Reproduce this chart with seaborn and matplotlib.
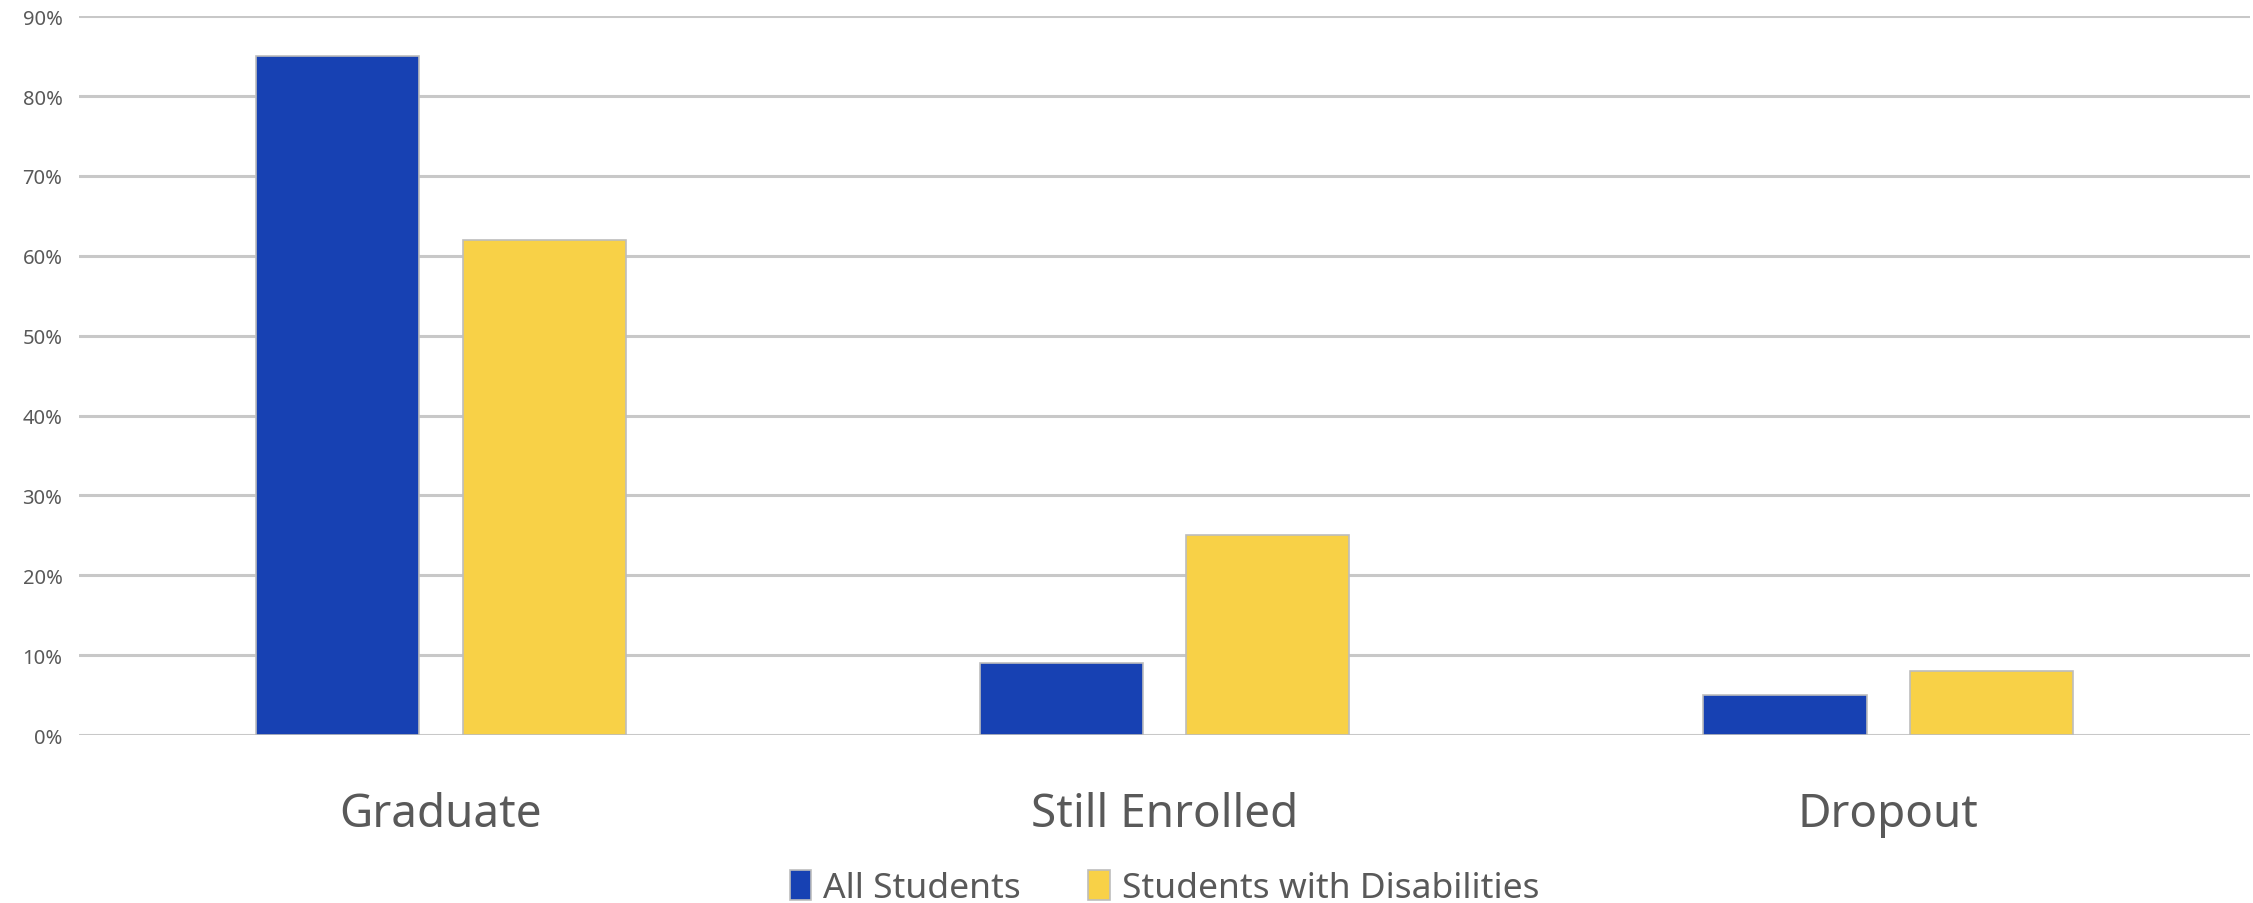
import matplotlib
matplotlib.use("Agg")
import matplotlib.pyplot as plt
import seaborn as sns
import pandas as pd
from matplotlib.ticker import PercentFormatter

categories = ["Graduate", "Still Enrolled", "Dropout"]
series_names = ["All Students", "Students with Disabilities"]
all_students = [85, 9, 5]
students_disab = [62, 25, 8]
y_ticks = [0, 10, 20, 30, 40, 50, 60, 70, 80, 90]

df = pd.DataFrame({
    "Category": categories * 2,
    "Group": [series_names[0]] * 3 + [series_names[1]] * 3,
    "Value": all_students + students_disab,
})

sns.set_theme(style="white")
plt.rcParams['font.family'] = ['Noto Sans', 'DejaVu Sans']

fig = plt.figure(figsize=(22.53, 9.04), dpi=100)
ax = fig.add_axes([0.0351, 0.1858, 0.9636, 0.7952])

palette = {series_names[0]: "#1741B3", series_names[1]: "#F8D147"}
sns.barplot(data=df, x="Category", y="Value", hue="Group", palette=palette,
            width=0.571, gap=0.21, ax=ax, saturation=1, edgecolor="#BDBDBD",
            linewidth=1.2, zorder=3, legend=True)

ax.set_xlim(-0.5, 2.5)
ax.set_ylim(0, 90)
ax.set_yticks(y_ticks)
ax.yaxis.set_major_formatter(PercentFormatter(decimals=0))
ax.grid(axis="y", color="#C8C8C8", linewidth=2.2, zorder=0)
ax.set_axisbelow(True)
for s in ax.spines.values():
    s.set_visible(False)
ax.set_xlabel("")
ax.set_ylabel("")
ax.tick_params(axis="y", labelsize=14.5, colors="#595959", length=0, pad=12)
ax.tick_params(axis="x", labelsize=33, colors="#595959", length=0, pad=40)

handles, labels = ax.get_legend_handles_labels()
ax.legend(handles, labels, loc="center", bbox_to_anchor=(0.5, -0.212),
          ncol=2, frameon=False, fontsize=25.5, labelcolor="#595959",
          handlelength=0.6, handleheight=0.95, handletextpad=0.35, columnspacing=1.9,
          borderpad=0.1)

fig.savefig("out.png", dpi=100, facecolor="white")
